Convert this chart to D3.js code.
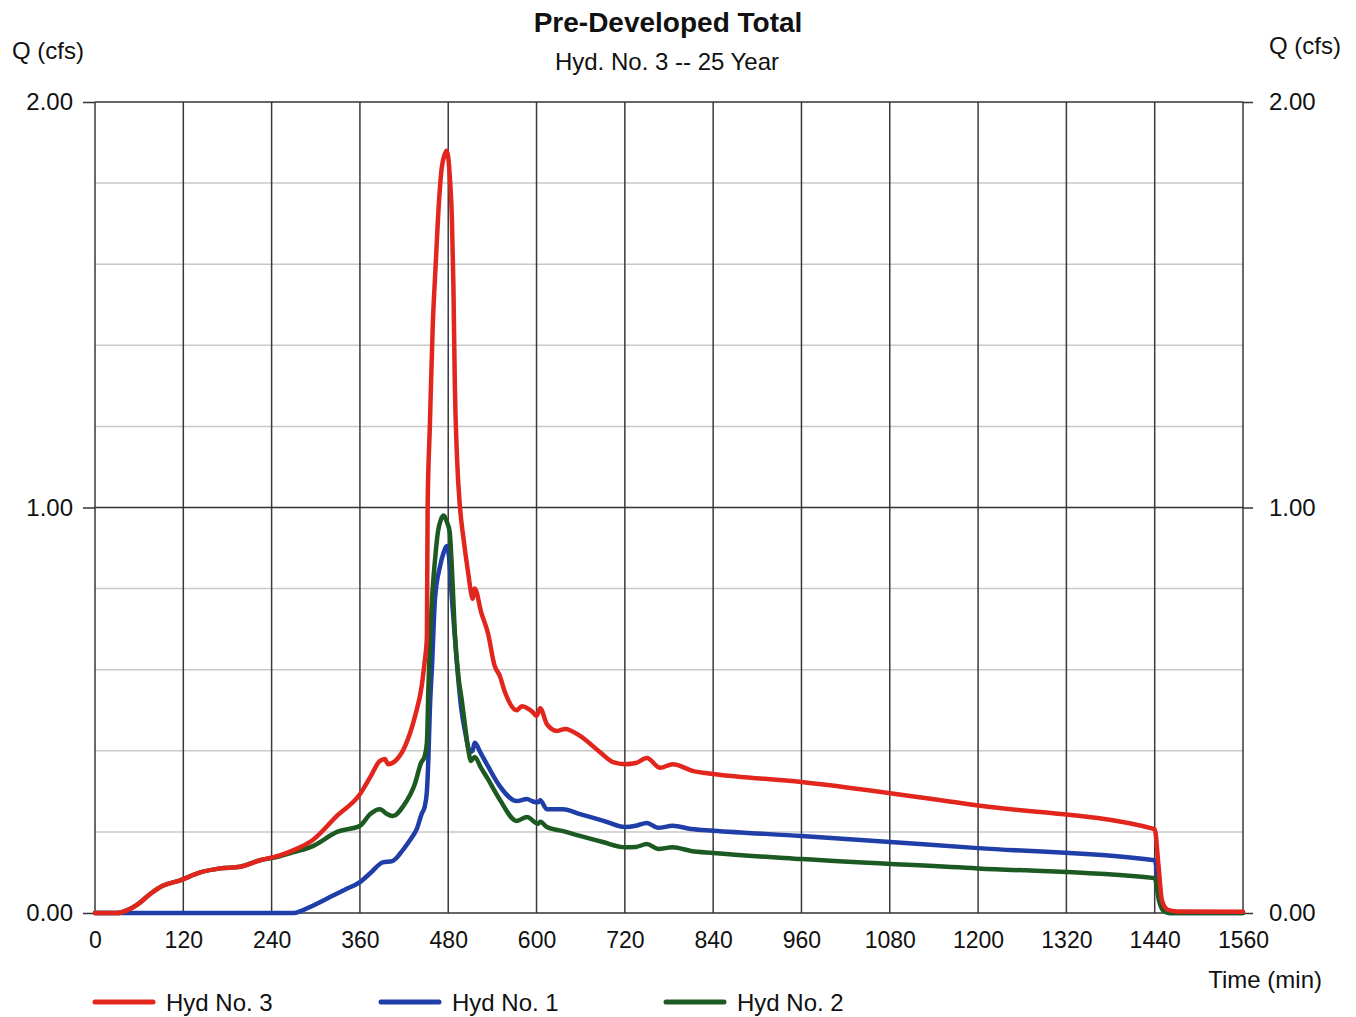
<!DOCTYPE html>
<html>
<head>
<meta charset="utf-8">
<script src="https://cdn.jsdelivr.net/npm/d3@7"></script>
<style>
  body { margin: 0; background: #fff; }
  svg text { font-family: "Liberation Sans", Arial, sans-serif; fill: #111; }
</style>
</head>
<body>
<div id="chart"></div>
<script>
// Tick values
const timeTicks = [0, 120, 240, 360, 480, 600, 720, 840, 960, 1080, 1200, 1320, 1440, 1560];
const flowTicks = [0, 1, 2];
const minorFlowTicks = [0.2, 0.4, 0.6, 0.8, 1.2, 1.4, 1.6, 1.8];

// Hyd No. 3 (total) - [time (min), Q (cfs)]
const hyd3 = [
  [0, 0], [30, 0], [45, 0.008], [57, 0.02], [75, 0.047], [92, 0.067], [115, 0.08],
  [143, 0.1], [170, 0.11], [197, 0.114], [224, 0.13], [251, 0.142], [270, 0.155],
  [296, 0.18], [329, 0.24], [360, 0.293], [374, 0.335], [387, 0.375], [394, 0.38],
  [398, 0.367], [408, 0.375], [421, 0.41], [435, 0.486], [444, 0.56], [448, 0.62],
  [451, 0.68], [452, 1.0], [455, 1.2], [459, 1.45], [463, 1.6], [466, 1.71],
  [471, 1.835], [475, 1.87], [478, 1.88], [482, 1.82], [485, 1.71], [487, 1.55],
  [489, 1.3], [492, 1.12], [496, 1.0], [501, 0.92], [507, 0.84], [511, 0.79],
  [513, 0.775], [516, 0.8], [525, 0.74], [534, 0.69], [543, 0.61], [550, 0.585],
  [557, 0.545], [573, 0.5], [580, 0.51], [595, 0.495], [600, 0.486], [605, 0.505],
  [614, 0.466], [628, 0.449], [639, 0.454], [659, 0.437], [686, 0.397], [704, 0.372],
  [720, 0.367], [735, 0.37], [750, 0.382], [768, 0.358], [785, 0.367], [813, 0.35],
  [840, 0.343], [960, 0.323], [1200, 0.265], [1440, 0.207], [1445, 0.12], [1450, 0.03],
  [1458, 0.008], [1470, 0.004], [1560, 0.003]
];

// Hyd No. 1
const hyd1 = [
  [0, 0], [270, 0], [280, 0.005], [296, 0.018], [320, 0.04], [340, 0.058], [360, 0.076],
  [375, 0.1], [391, 0.125], [404, 0.128], [419, 0.157], [430, 0.185], [437, 0.206],
  [444, 0.245], [448, 0.262], [451, 0.3], [453, 0.38], [455, 0.5], [458, 0.61],
  [462, 0.775], [469, 0.856], [474, 0.89], [478, 0.905], [481, 0.88], [485, 0.775],
  [492, 0.61], [498, 0.5], [503, 0.446], [510, 0.397], [513, 0.4], [516, 0.42],
  [524, 0.395], [534, 0.362], [550, 0.313], [573, 0.276], [587, 0.281], [595, 0.275],
  [602, 0.273], [605, 0.278], [614, 0.256], [636, 0.256], [659, 0.244], [690, 0.228],
  [720, 0.212], [735, 0.215], [750, 0.222], [765, 0.21], [785, 0.215], [810, 0.207],
  [840, 0.203], [960, 0.19], [1200, 0.16], [1440, 0.13], [1446, 0.06], [1452, 0.01],
  [1460, 0], [1560, 0]
];

// Hyd No. 2
const hyd2 = [
  [0, 0], [30, 0], [45, 0.008], [57, 0.02], [75, 0.047], [92, 0.067], [115, 0.08],
  [143, 0.1], [170, 0.11], [197, 0.114], [224, 0.13], [251, 0.14], [270, 0.15],
  [296, 0.165], [329, 0.2], [360, 0.215], [374, 0.244], [387, 0.256], [397, 0.244],
  [405, 0.239], [419, 0.264], [435, 0.32], [443, 0.37], [448, 0.387], [451, 0.42],
  [453, 0.55], [455, 0.66], [458, 0.775], [462, 0.87], [466, 0.94], [470, 0.97],
  [474, 0.98], [478, 0.965], [482, 0.94], [485, 0.85], [489, 0.69], [494, 0.58],
  [498, 0.53], [503, 0.46], [507, 0.405], [511, 0.375], [516, 0.385], [524, 0.36],
  [534, 0.33], [550, 0.28], [573, 0.227], [587, 0.237], [602, 0.22], [605, 0.225],
  [614, 0.212], [636, 0.202], [659, 0.19], [690, 0.175], [720, 0.162], [735, 0.163],
  [750, 0.17], [765, 0.158], [785, 0.162], [810, 0.153], [840, 0.148], [960, 0.133],
  [1200, 0.11], [1440, 0.086], [1446, 0.03], [1452, 0.005], [1460, 0], [1560, 0]
];

const seriesNames = ['Hyd No. 3', 'Hyd No. 1', 'Hyd No. 2'];
const seriesColors = ['#e2261d', '#1f3ea8', '#1d5a22'];

const width = 1356;
const height = 1017;

const svg = d3.select('#chart')
  .append('svg')
    .attr('width', width)
    .attr('height', height);

const x = d3.scaleLinear().domain([0, 1560]).range([95, 1243]);
const y = d3.scaleLinear().domain([0, 2]).range([913, 102]);

// light horizontal grid
svg.append('g')
  .selectAll('line')
  .data(minorFlowTicks)
  .join('line')
    .attr('x1', x(0))
    .attr('x2', x(1560))
    .attr('y1', d => y(d))
    .attr('y2', d => y(d))
    .attr('stroke', '#c8c8c8')
    .attr('stroke-width', 1.5);

// vertical grid
svg.append('g')
  .selectAll('line')
  .data(timeTicks)
  .join('line')
    .attr('x1', d => x(d))
    .attr('x2', d => x(d))
    .attr('y1', y(0))
    .attr('y2', y(2))
    .attr('stroke', '#3a3a3a')
    .attr('stroke-width', 1.5);

// major horizontal lines
svg.append('g')
  .selectAll('line')
  .data(flowTicks)
  .join('line')
    .attr('x1', x(0))
    .attr('x2', x(1560))
    .attr('y1', d => y(d))
    .attr('y2', d => y(d))
    .attr('stroke', '#333')
    .attr('stroke-width', 1.5);

// axes
const leftAxis = svg.append('g')
    .attr('transform', `translate(${x(0)},0)`)
    .call(d3.axisLeft(y).tickValues(flowTicks).tickFormat(d3.format('.2f')).tickSize(12).tickPadding(10));
const rightAxis = svg.append('g')
    .attr('transform', `translate(${x(1560)},0)`)
    .call(d3.axisRight(y).tickValues(flowTicks).tickFormat(d3.format('.2f')).tickSize(10).tickPadding(16));
const bottomAxis = svg.append('g')
    .attr('transform', `translate(0,${y(0)})`)
    .call(d3.axisBottom(x).tickValues(timeTicks).tickFormat(d3.format('d')).tickSize(0).tickPadding(19));

[leftAxis, rightAxis, bottomAxis].forEach(a => {
  a.select('.domain').remove();
  a.selectAll('line').attr('stroke', '#333').attr('stroke-width', 1.5);
  a.selectAll('text')
    .style('font-family', '"Liberation Sans", Arial, sans-serif')
    .style('font-size', '24px')
    .attr('fill', '#111');
});
bottomAxis.selectAll('text').style('font-size', '23px');

// lines
const line = d3.line()
    .x(d => x(d[0]))
    .y(d => y(d[1]))
    .curve(d3.curveMonotoneX);

const drawOrder = [[hyd1, 1], [hyd2, 2], [hyd3, 0]];
drawOrder.forEach(([data, i]) => {
  svg.append('path')
    .datum(data)
    .attr('fill', 'none')
    .attr('stroke', seriesColors[i])
    .attr('stroke-width', 4.5)
    .attr('stroke-linejoin', 'round')
    .attr('stroke-linecap', 'round')
    .attr('d', line);
});

// titles
svg.append('text')
    .attr('x', 668).attr('y', 32)
    .attr('text-anchor', 'middle')
    .style('font-size', '28px').style('font-weight', 'bold')
    .text('Pre-Developed Total');
svg.append('text')
    .attr('x', 667).attr('y', 70)
    .attr('text-anchor', 'middle')
    .style('font-size', '24px')
    .text('Hyd. No. 3 -- 25 Year');
svg.append('text')
    .attr('x', 12).attr('y', 59)
    .style('font-size', '24px')
    .text('Q (cfs)');
svg.append('text')
    .attr('x', 1341).attr('y', 54)
    .attr('text-anchor', 'end')
    .style('font-size', '24px')
    .text('Q (cfs)');
svg.append('text')
    .attr('x', 1322).attr('y', 988)
    .attr('text-anchor', 'end')
    .style('font-size', '24px')
    .text('Time (min)');

// legend
const legendX = [95, 381, 666];
const legend = svg.append('g')
  .selectAll('g')
  .data(seriesNames)
  .join('g')
    .attr('transform', (d, i) => `translate(${legendX[i]},1002)`);
legend.append('line')
    .attr('x1', 0).attr('x2', 58)
    .attr('stroke', (d, i) => seriesColors[i])
    .attr('stroke-width', 5)
    .attr('stroke-linecap', 'round');
legend.append('text')
    .attr('x', 71).attr('y', 9)
    .style('font-size', '24px')
    .text(d => d);
</script>
</body>
</html>
